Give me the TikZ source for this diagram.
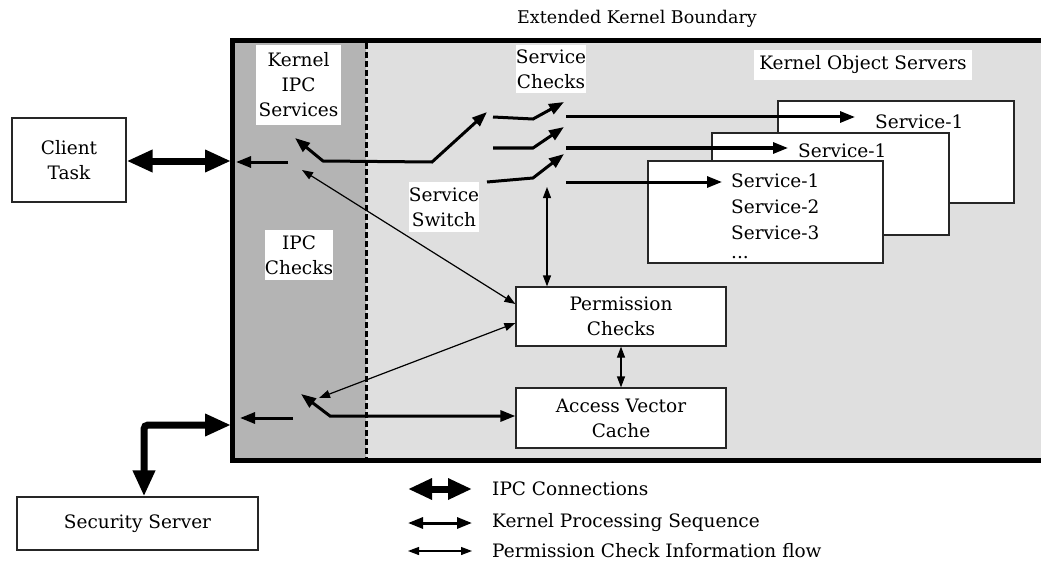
\documentclass[tikz,border=0pt]{standalone}
\usepackage{fontspec}
\setmainfont{DejaVu Serif}
\usetikzlibrary{arrows.meta}
\definecolor{darkg}{HTML}{B4B4B4}
\definecolor{lightg}{HTML}{DFDFDF}
\begin{document}
\begin{tikzpicture}[x=1pt,y=-1pt,
  txt/.style={font=\fontsize{18.5}{25}\selectfont, align=center, inner sep=0pt},
  wlbl/.style={txt, fill=white},
  box/.style={draw=black!85, line width=1.2pt, fill=white, txt},
  ipcA/.style={line width=7pt, {Triangle[length=26pt,width=21pt]}-{Triangle[length=26pt,width=21pt]}},
  kseqB/.style={line width=3pt, {Triangle[length=15pt,width=11pt]}-{Triangle[length=15pt,width=11pt]}},
  kseqR/.style={line width=3pt, -{Triangle[length=15pt,width=11pt]}},
  thinB/.style={line width=1.2pt, {Triangle[length=11pt,width=8pt]}-{Triangle[length=11pt,width=8pt]}}
]
\useasboundingbox (0,0) rectangle (1041,575);
\clip (0,0) rectangle (1041,575);
% background regions
\fill[darkg] (232.5,40.5) rectangle (366,460.5);
\fill[lightg] (366,40.5) rectangle (1050,460.5);
\draw[line width=3pt, dash pattern=on 6pt off 3pt] (366,43) -- (366,458);
\draw[line width=5pt] (1060,40.5) -- (232.5,40.5) -- (232.5,460.5) -- (1060,460.5);

% title
\node[txt, font=\fontsize{17.5}{25}\selectfont] (ext) at (637,19) {Extended Kernel Boundary};

% labels
\node[wlbl, minimum width=85pt, minimum height=80pt] (kipc) at (298.5,85) {Kernel\\IPC\\Services};
\node[wlbl, minimum width=68pt, minimum height=50pt] (ipcchk) at (299,255) {IPC\\Checks};
\node[wlbl, minimum width=68pt, minimum height=48pt] (schk) at (551,69) {Service\\Checks};
\node[wlbl, minimum width=66pt, minimum height=50pt] (ssw) at (444,207) {Service\\Switch};
\node[wlbl, minimum width=218pt, minimum height=30pt] (kos) at (863,65) {Kernel Object Servers};

% boxes
\node[box, minimum width=114pt, minimum height=84pt] (client) at (69,160) {Client\\Task};
\node[box, minimum width=241pt, minimum height=53pt] (sec) at (137.5,523.5) {Security Server};
\node[box, minimum width=210pt, minimum height=59pt] (perm) at (621,316.5) {Permission\\Checks};
\node[box, minimum width=210pt, minimum height=60pt] (avc) at (621,418) {Access Vector\\Cache};

\node[box, minimum width=236pt, minimum height=102pt] (s3) at (896,152) {};
\node[box, minimum width=237pt, minimum height=102pt] (s2) at (830.5,184) {};
\node[box, minimum width=235pt, minimum height=102pt] (s1) at (765.5,212) {};
\node[txt, anchor=west] (s3a) at (875,122) {Service-1};
\node[txt, anchor=west] (s2a) at (798,151) {Service-1};
\node[txt, anchor=west] (s1a) at (731,181) {Service-1};
\node[txt, anchor=west] (s1b) at (731,207) {Service-2};
\node[txt, anchor=west] (s1c) at (731,233) {Service-3};
\node[txt, anchor=west] (s1d) at (731,258) {...};

% coordinates for switches
\coordinate (wallC) at (231,161);
\coordinate (wallS) at (231,425);
\coordinate (corner) at (144,425);
\coordinate (ipcOut) at (288,162);
\coordinate (ipcIn) at (236,162);
\coordinate (swTip) at (295,138);
\coordinate (swA) at (323,161);
\coordinate (swB) at (432,162);
\coordinate (swC) at (487,112);
\coordinate (c1a) at (493,117); \coordinate (c1b) at (533,119); \coordinate (c1c) at (564,102);
\coordinate (c2a) at (493,148); \coordinate (c2b) at (533,148); \coordinate (c2c) at (564,127);
\coordinate (c3a) at (487,182); \coordinate (c3b) at (533,178); \coordinate (c3c) at (564,154);
\coordinate (o1) at (566,117); \coordinate (o1t) at (855,117);
\coordinate (o2) at (566,148); \coordinate (o2t) at (788,148);
\coordinate (o3) at (566,182); \coordinate (o3t) at (722,182);
\coordinate (vTop) at (547,187);
\coordinate (pmTip) at (302,170);
\coordinate (lowTip) at (319,398);
\coordinate (lsTip) at (301,394);
\coordinate (lsA) at (330,416);
\coordinate (lOut) at (293,418);
\coordinate (lIn) at (240,418);

% IPC connections
\draw[ipcA] (client.east |- wallC) -- (wallC);
\draw[ipcA, rounded corners=4pt] (wallS) -- (corner) -- (corner |- sec.north);

% kernel processing
\draw[kseqR] (ipcOut) -- (ipcIn);
\draw[kseqB] (swTip) -- (swA) -- (swB) -- (swC);
\draw[kseqR] (c1a) -- (c1b) -- (c1c);
\draw[kseqR] (c2a) -- (c2b) -- (c2c);
\draw[kseqR] (c3a) -- (c3b) -- (c3c);
\draw[kseqR] (o1) -- (o1t);
\draw[kseqR] (o2) -- (o2t);
\draw[kseqR] (o3) -- (o3t);
\draw[kseqB] (lsTip) -- (lsA) -- (lsA -| avc.west);
\draw[kseqR] (lOut) -- (lIn);

% permission info
\draw[thinB] (vTop) -- (vTop |- perm.north);
\draw[thinB] (pmTip) -- (perm.west |- 0,304);
\draw[thinB] (lowTip) -- (perm.west |- 0,323);
\draw[thinB] (perm.south) -- (avc.north);

% legend
\coordinate (g1a) at (408,489); \coordinate (g1b) at (472,489);
\coordinate (g2a) at (408,523); \coordinate (g2b) at (472,523);
\coordinate (g3a) at (408,551); \coordinate (g3b) at (472,551);
\draw[line width=7pt, {Triangle[length=24pt,width=20pt]}-{Triangle[length=24pt,width=20pt]}] (g1a) -- (g1b);
\draw[kseqB] (g2a) -- (g2b);
\draw[thinB] (g3a) -- (g3b);
\node[txt, anchor=west] (l1) at (492,489) {IPC Connections};
\node[txt, anchor=west] (l2) at (492,523) {Kernel Processing Sequence};
\node[txt, anchor=west] (l3) at (492,551) {Permission Check Information flow};
\end{tikzpicture}
\end{document}
